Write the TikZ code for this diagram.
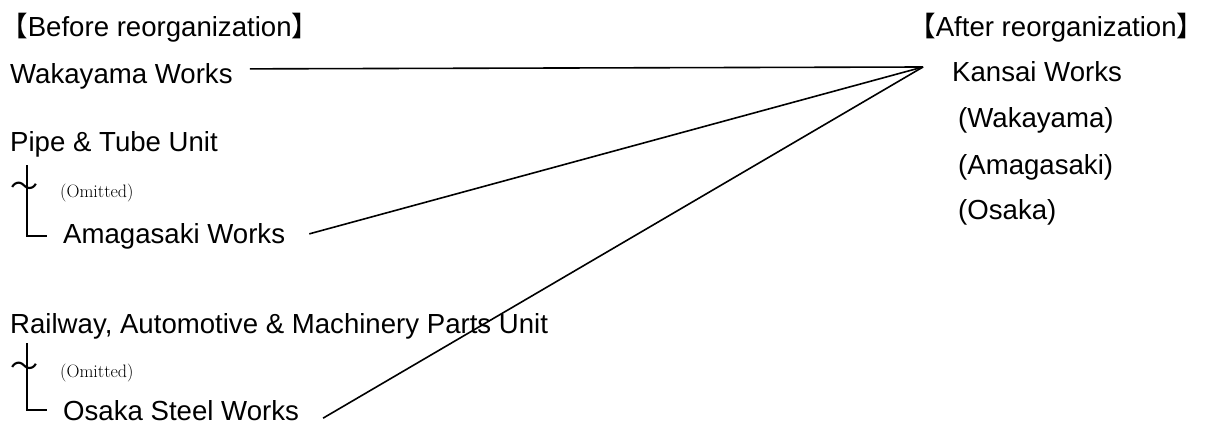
\documentclass[tikz,border=0pt]{standalone}
\usepackage{fontspec}
\newfontfamily\arial{Liberation Sans}
\newfontfamily\cjk{Noto Sans CJK JP}

\begin{document}
\begin{tikzpicture}[x=1pt,y=-1pt,
    lbl/.style={anchor=base west,inner sep=0pt,font=\arial\fontsize{27.6}{30}\selectfont},
    omit/.style={anchor=base west,inner sep=0pt,font=\fontsize{18}{20}\selectfont},
    wave/.style={inner sep=0pt,font=\cjk\fontsize{28}{28}\selectfont},
    link/.style={line width=1.6pt}]
  \useasboundingbox (0,0) rectangle (1207,425);
  % headings
  \node[lbl] (before) at (0,37) {{\cjk 【}Before reorganization{\cjk 】}};
  \node[lbl] (after) at (908,37) {{\cjk 【}After reorganization{\cjk 】}};
  % before
  \node[lbl] (wak) at (10,84) {Wakayama Works};
  \node[lbl] (pipe) at (10,151) {Pipe \& Tube Unit};
  \node[omit] (omit1) at (60,197) {(Omitted)};
  \node[lbl] (ama) at (63,243) {Amagasaki Works};
  \node[lbl] (rail) at (10,333) {Railway, Automotive \& Machinery Parts Unit};
  \node[omit] (omit2) at (60,377) {(Omitted)};
  \node[lbl] (osaka) at (63,420) {Osaka Steel Works};
  % after
  \node[lbl] (kansai) at (952,82) {Kansai Works};
  \node[lbl] (kwak) at (958,128) {(Wakayama)};
  \node[lbl] (kama) at (958,175) {(Amagasaki)};
  \node[lbl] (kosa) at (958,219) {(Osaka)};
  % trees
  \node[wave] (til1) at (24,189) {～};
  \node[wave] (til2) at (24,369) {～};
  \coordinate (top1) at (27,165);
  \coordinate (top2) at (27,343);
  \draw[link] (top1) |- ([xshift=-16pt]ama.west);
  \draw[link] (top2) |- ([xshift=-16pt]osaka.west);
  % links
  \coordinate (hub) at (923,67);
  \draw[link] ([xshift=17pt,yshift=8pt]wak.east) -- (hub);
  \draw[link] ([xshift=24pt,yshift=2pt]ama.east) -- (hub);
  \draw[link] ([xshift=24pt,yshift=-8pt]osaka.east) -- (hub);
\end{tikzpicture}
\end{document}
